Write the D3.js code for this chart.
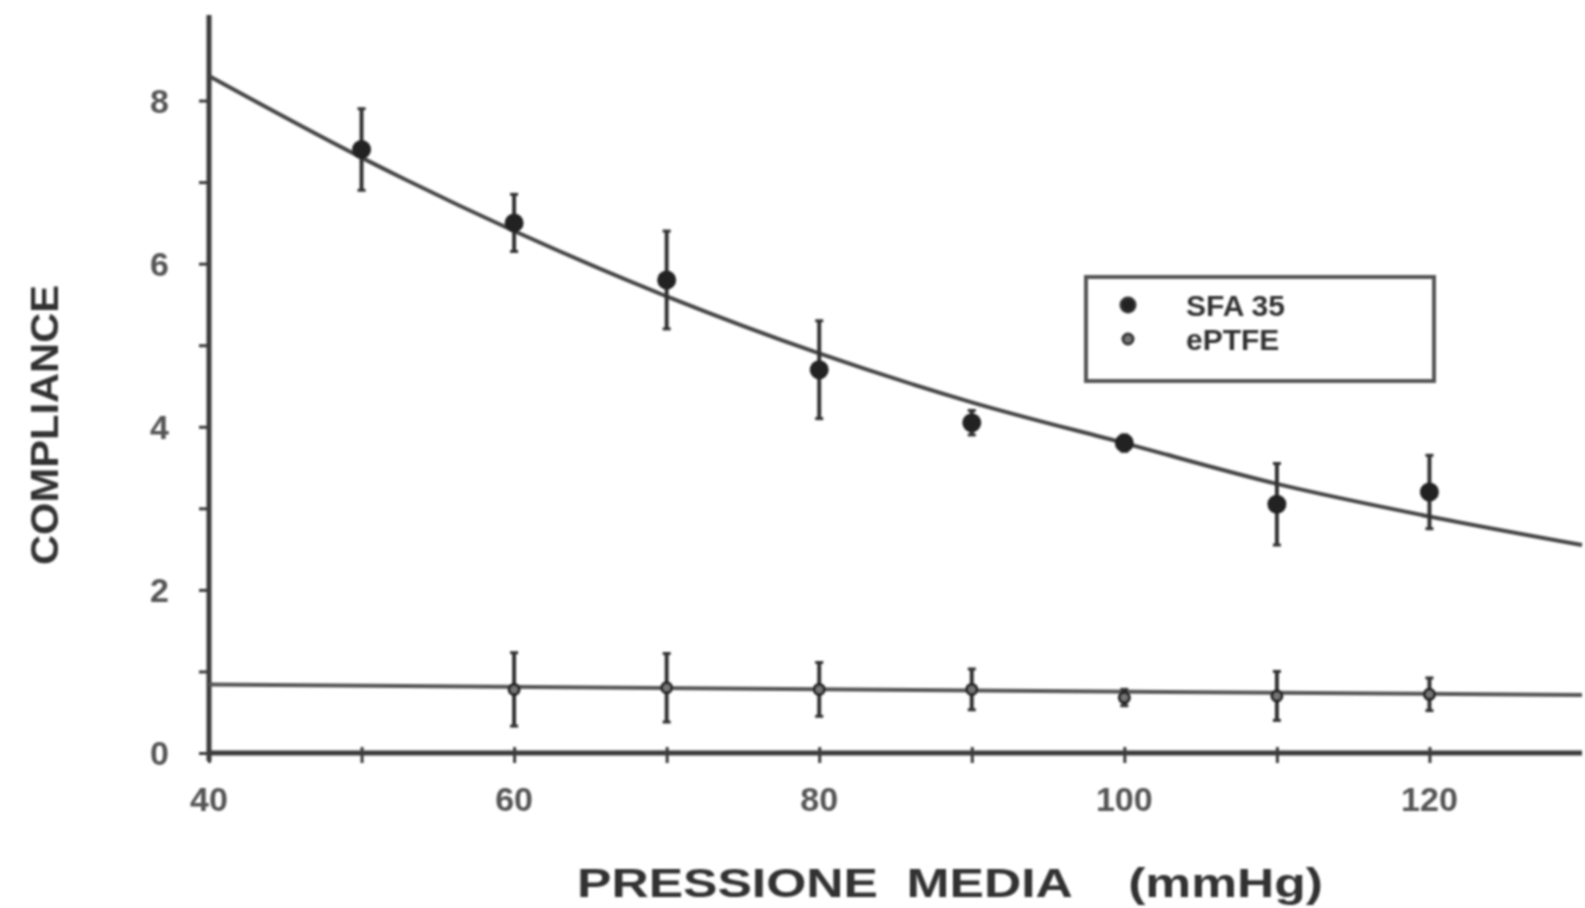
<!DOCTYPE html>
<html>
<head>
<meta charset="utf-8">
<script src="https://cdn.jsdelivr.net/npm/d3@7"></script>
<style>
  body { margin: 0; background: #fff; }
  svg { display: block; }
  text { font-family: "Liberation Sans", Arial, sans-serif; }
</style>
</head>
<body>
<div id="chart"></div>
<script>
// Data
const pressure = [50, 60, 70, 80, 90, 100, 110, 120];
const sfaMean  = [7.4, 6.5, 5.8, 4.7, 4.05, 3.8, 3.05, 3.2];
const sfaErr   = [0.5, 0.35, 0.6, 0.6, 0.15, 0.1, 0.5, 0.45];

const pressureE = [60, 70, 80, 90, 100, 110, 120];
const eptfeMean = [0.78, 0.8, 0.78, 0.78, 0.68, 0.7, 0.72];
const eptfeErr  = [0.45, 0.42, 0.33, 0.25, 0.1, 0.3, 0.2];

// fitted curves
const fitX    = [40, 50, 60, 70, 80, 90, 100, 110, 120, 130];
const sfaFit  = [8.3, 7.3, 6.4, 5.6, 4.9, 4.3, 3.8, 3.3, 2.9, 2.55];
const eptfeFitX = [40, 130];
const eptfeFit  = [0.84, 0.71];

const xTicks = [40, 50, 60, 70, 80, 90, 100, 110, 120];
const xLabels = [40, 60, 80, 100, 120];
const yTicks = [0, 1, 2, 3, 4, 5, 6, 7, 8];
const yLabels = [0, 2, 4, 6, 8];
const seriesNames = ["SFA 35", "ePTFE"];

const width = 1585;
const height = 908;
const margin = { top: 19, right: 3, bottom: 155, left: 209 };

const svg = d3.select('#chart')
    .append('svg')
    .attr('width', width)
    .attr('height', height);

// soft blur so the lines look like the old scan
svg.append('defs').append('filter')
    .attr('id', 'scan')
    .append('feGaussianBlur')
    .attr('stdDeviation', 0.9);

const g = svg.append('g').attr('filter', 'url(#scan)');

const x = d3.scaleLinear()
    .domain([40, 130])
    .range([margin.left, width - margin.right]);

const y = d3.scaleLinear()
    .domain([0, 9])
    .range([height - margin.bottom, margin.top]);

const ink = '#3a3a3a';

// x axis
const xAxis = g.append('g')
    .attr('transform', `translate(0,${y(0)})`)
    .call(d3.axisBottom(x).tickValues(xTicks).tickSize(10).tickFormat(''));
xAxis.select('.domain').remove();
xAxis.selectAll('.tick line').attr('stroke', ink).attr('stroke-width', 3).attr('y1', -6);
g.append('line')
    .attr('x1', x(40)).attr('x2', x(130))
    .attr('y1', y(0)).attr('y2', y(0))
    .attr('stroke', ink).attr('stroke-width', 5);

g.selectAll('.xlab')
    .data(xLabels)
    .enter().append('text')
    .attr('x', d => x(d))
    .attr('y', y(0) + 58)
    .attr('text-anchor', 'middle')
    .attr('font-size', 34)
    .attr('font-weight', 'bold')
    .attr('fill', '#555')
    .text(d => d);

// y axis
const yAxis = g.append('g')
    .attr('transform', `translate(${x(40)},0)`)
    .call(d3.axisLeft(y).tickValues(yTicks).tickSize(10).tickFormat(''));
yAxis.select('.domain').remove();
yAxis.selectAll('.tick line').attr('stroke', ink).attr('stroke-width', 3);
g.append('line')
    .attr('x1', x(40)).attr('x2', x(40))
    .attr('y1', y(0) + 8).attr('y2', y(9) - 4)
    .attr('stroke', ink).attr('stroke-width', 5);

g.selectAll('.ylab')
    .data(yLabels)
    .enter().append('text')
    .attr('x', x(40) - 40)
    .attr('y', d => y(d) + 12)
    .attr('text-anchor', 'end')
    .attr('font-size', 34)
    .attr('font-weight', 'bold')
    .attr('fill', '#555')
    .text(d => d);

// axis titles
g.append('text')
    .attr('x', 950)
    .attr('y', 897)
    .attr('text-anchor', 'middle')
    .attr('font-size', 40)
    .attr('font-weight', 'bold')
    .attr('fill', '#333')
    .style('white-space', 'pre')
    .attr('textLength', 746)
    .attr('lengthAdjust', 'spacingAndGlyphs')
    .text('PRESSIONE  MEDIA    (mmHg)');

g.append('text')
    .attr('transform', `translate(58,425) rotate(-90)`)
    .attr('text-anchor', 'middle')
    .attr('font-size', 38)
    .attr('font-weight', 'bold')
    .attr('fill', '#333')
    .attr('textLength', 280)
    .attr('lengthAdjust', 'spacingAndGlyphs')
    .text('COMPLIANCE');

// fitted lines
const line = d3.line().curve(d3.curveMonotoneX);
g.append('path')
    .attr('d', line(fitX.map((d, i) => [x(d), y(sfaFit[i])])))
    .attr('fill', 'none')
    .attr('stroke', '#444')
    .attr('stroke-width', 4);
g.append('path')
    .attr('d', line(eptfeFitX.map((d, i) => [x(d), y(eptfeFit[i])])))
    .attr('fill', 'none')
    .attr('stroke', '#555')
    .attr('stroke-width', 4);

// error bars + markers
function drawSeries(xs, means, errs, filled) {
    const s = g.append('g');
    s.selectAll('.err')
        .data(xs)
        .enter().append('line')
        .attr('x1', d => x(d)).attr('x2', d => x(d))
        .attr('y1', (d, i) => y(means[i] + errs[i]))
        .attr('y2', (d, i) => y(means[i] - errs[i]))
        .attr('stroke', '#333')
        .attr('stroke-width', 4);
    s.selectAll('.cap')
        .data(xs.flatMap((d, i) => [[d, means[i] + errs[i]], [d, means[i] - errs[i]]]))
        .enter().append('line')
        .attr('x1', d => x(d[0]) - 4).attr('x2', d => x(d[0]) + 4)
        .attr('y1', d => y(d[1])).attr('y2', d => y(d[1]))
        .attr('stroke', '#333')
        .attr('stroke-width', 3);
    s.selectAll('.dot')
        .data(xs)
        .enter().append('circle')
        .attr('cx', d => x(d))
        .attr('cy', (d, i) => y(means[i]))
        .attr('r', filled ? 8 : 5)
        .attr('fill', filled ? '#222' : '#777')
        .attr('stroke', '#222')
        .attr('stroke-width', 3);
}
drawSeries(pressure, sfaMean, sfaErr, true);
drawSeries(pressureE, eptfeMean, eptfeErr, false);

// legend
const lg = g.append('g').attr('transform', 'translate(1086,277)');
lg.append('rect')
    .attr('width', 348).attr('height', 104)
    .attr('fill', 'none')
    .attr('stroke', '#555')
    .attr('stroke-width', 4);
seriesNames.forEach((name, i) => {
    const ly = 28 + i * 34;
    lg.append('circle')
        .attr('cx', 42).attr('cy', ly)
        .attr('r', i === 0 ? 7 : 5)
        .attr('fill', i === 0 ? '#222' : '#777')
        .attr('stroke', '#333').attr('stroke-width', 3);
    lg.append('text')
        .attr('x', 100).attr('y', ly + 11)
        .attr('font-size', 30)
        .attr('font-weight', 'bold')
        .attr('fill', '#333')
        .text(name);
});
</script>
</body>
</html>
